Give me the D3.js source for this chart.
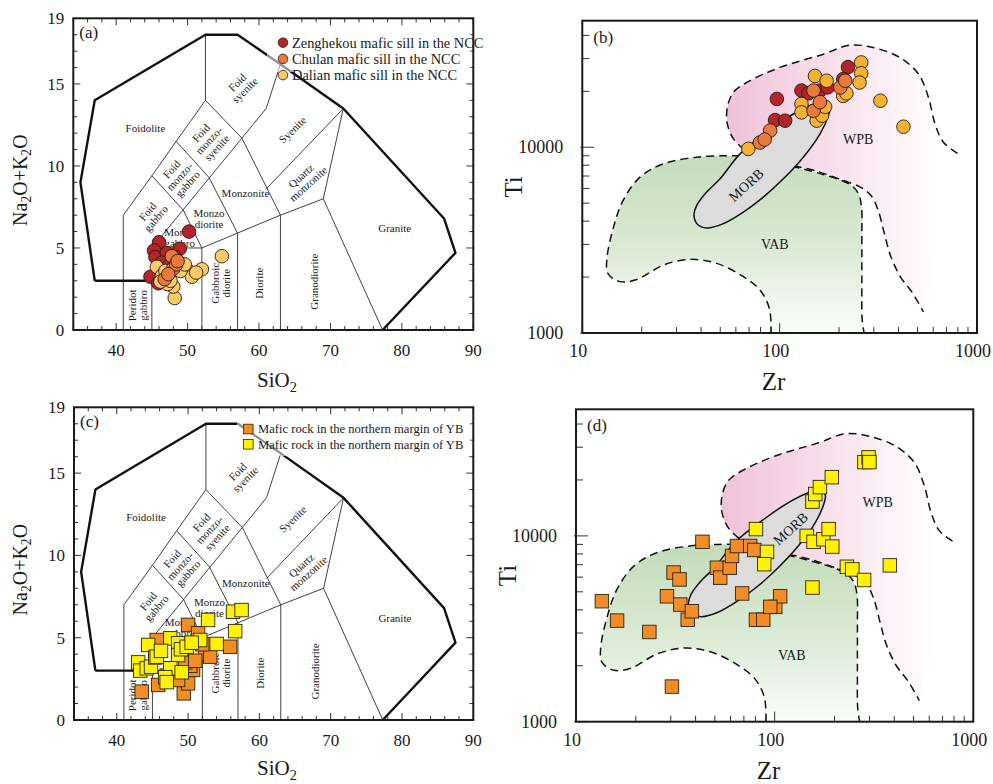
<!DOCTYPE html>
<html>
<head>
<meta charset="utf-8">
<script src="https://cdn.jsdelivr.net/npm/d3@7"></script>
<style>
  body { margin: 0; background: #fff; }
  svg { display: block; }
  text { font-family: "Liberation Serif", "Times New Roman", serif; fill: #1a1a1a; }
</style>
</head>
<body>
<svg id="chart" width="993" height="784" font-family="Liberation Serif, Times New Roman, serif"></svg>
<script>
// ---------------- tick labels ----------------
const tasTickValuesX = [40, 50, 60, 70, 80, 90];
const tasTickValuesY = [0, 5, 10, 15, 19];
const zrTickLabels = [10, 100, 1000];
const tiTickLabels = [1000, 10000];

// ---------------- TAS data (SiO2, Na2O+K2O) ----------------
const zenghekouTAS = [[46.0,5.35],[45.3,4.85],[45.5,4.45],[47.1,4.7],[48.9,4.95],[50.2,6.0],[44.8,3.25],[45.9,2.85],[48.2,4.45],[46.4,4.1],[47.4,3.9]];
const dalianTAS = [[54.8,4.5],[45.7,3.85],[52.0,3.7],[49.9,3.7],[50.6,3.25],[48.2,1.95],[48.0,2.65],[47.2,2.8],[46.4,3.3],[49.0,3.6],[51.2,3.5],[47.6,3.0],[46.9,3.6],[49.6,4.0],[46.2,2.95]];
const chulanTAS = [[47.8,4.5],[48.0,3.75],[48.4,4.0],[46.8,3.1],[47.3,3.4],[48.6,4.2]];

const ybOrangeTAS = [[43.5,1.72],[45.6,4.86],[45.8,2.13],[50.0,5.78],[51.4,5.27],[49.4,1.62],[50.0,2.23],[50.7,3.04],[52.4,4.0],[53.1,3.85],[55.9,4.45],[50.3,3.3],[48.6,2.43],[49.6,3.5],[51.0,3.6],[47.0,2.7],[52.0,4.6]];
const ybYellowTAS = [[43.0,3.5],[43.3,3.0],[44.4,4.56],[44.2,3.14],[44.8,3.24],[45.4,3.8],[45.6,3.85],[47.5,4.96],[48.6,4.66],[48.6,3.95],[47.5,3.14],[49.1,2.9],[49.0,4.3],[46.8,2.6],[47.0,2.3],[49.8,4.45],[51.7,4.86],[52.8,6.08],[54.0,4.62],[56.3,6.58],[57.5,6.68],[56.6,5.4],[46.2,4.2],[50.5,4.7]];

// ---------------- Zr-Ti data (ppm) ----------------
const zenghekouZrTi = [[96.8,18200],[94.8,14000],[106.6,13900],[129,20200],[160,20200],[222,27000],[210,23300],[175,21000],[140,19500]];
const dalianZrTi = [[69.4,9800],[129,17100],[129,15400],[151,24200],[173,22800],[154,13900],[164,14800],[259,28600],[259,25000],[254,22300],[210,18900],[218,19500],[324,17800],[424,12900],[170,16500]];
const chulanZrTi = [[89.5,12300],[79.4,10600],[84,11000],[148.5,20200],[148.5,15700],[203,21000],[215,22800],[160,17500]];

const ybOrangeZrTi = [[13.5,4450],[16.1,3500],[23.4,3040],[30.4,1545],[28.7,4730],[31,6350],[33.2,5830],[33.5,4270],[36.5,3540],[38.3,3930],[43.3,9290],[51.2,6740],[53.2,5960],[59.4,6740],[61,7800],[64.6,8820],[68.6,4900],[75.3,8830],[79,8400],[80.5,3540],[87.6,3540],[100.7,4150],[106.6,4730],[95,4150]];
const ybYellowZrTi = [[80.5,10880],[91.5,8200],[88.6,7040],[145,10000],[157,9290],[176,9590],[187,10880],[195,8760],[155,5270],[155,15300],[160,16800],[169,18300],[194,20700],[231,6820],[246,6600],[282,5790],[380,6940],[283,24950],[297,26450],[300,24950]];

// ---------------- TAS (plutonic) field boundaries ----------------
const tasOuter = [[37,3],[35,9],[37,14],[52.5,18],[57,18],[63,16.2],[71.8,13.5],[85.9,6.8],[87.5,4.7],[77.3,0]];
const tasBase = [[37,3],[45,3]];
const tasDividers = [
  [[41,0],[41,7],[45,9.4],[48.4,11.5],[52.5,14],[52.5,18]],
  [[45,0],[45,5],[61,13.5],[63,16.2]],
  [[45,9.4],[49.4,7.3],[52,5]],
  [[48.4,11.5],[53,9.3],[57,5.9]],
  [[52.5,14],[57.6,11.7],[63,7]],
  [[45,5],[52,5]],
  [[52,0],[52,5],[63,7],[69,8],[71.8,13.5]],
  [[57,0],[57,5.9]],
  [[63,0],[63,7]],
  [[69,8],[77.3,0]],
  [[61,8.6],[71.8,13.5]]
];
const tasFieldLabels = [
  { lines: ["Foidolite"], x: 44.1, y: 12.3, angle: 0 },
  { lines: ["Foid", "syenite"], x: 57.5, y: 14.85, angle: -45 },
  { lines: ["Syenite"], x: 64.7, y: 12.2, angle: -44 },
  { lines: ["Foid", "monzo-", "syenite"], x: 53.0, y: 11.55, angle: -47 },
  { lines: ["Foid", "monzo-", "gabbro"], x: 48.9, y: 9.35, angle: -48 },
  { lines: ["Foid", "gabbro"], x: 45.0, y: 7.0, angle: -50 },
  { lines: ["Quartz", "monzonite"], x: 66.4, y: 9.15, angle: -42 },
  { lines: ["Monzonite"], x: 58.1, y: 8.33, angle: 0 },
  { lines: ["Monzo", "diorite"], x: 53.0, y: 6.8, angle: 0 },
  { lines: ["Monzo", "gabbro"], x: 48.9, y: 5.6, angle: 0 },
  { lines: ["Granite"], x: 79.0, y: 6.2, angle: 0 },
  { lines: ["Peridot", "gabbro"], x: 43.0, y: 1.5, angle: -90 },
  { lines: ["Gabbroic", "diorite"], x: 54.6, y: 2.85, angle: -90 },
  { lines: ["Diorite"], x: 60.1, y: 2.85, angle: -90 },
  { lines: ["Granodiorite"], x: 67.8, y: 2.95, angle: -90 }
];

// ---------------- Zr-Ti field boundaries (Zr, Ti) ----------------
const wpbUpper = [[66,9700],[58.3,11100],[54.3,13350],[54.3,16400],[58.3,19740],[68.1,22340],[100.5,26900],[166.5,31700],[227,35450],[298,34400],[407,30400],[505,24800],[567,18600],[613,13350],[676,10640],[805,9210]];
const wpbLower = [[118,7950],[154,7430],[210,6630],[256,6100],[290,5500],[315,4600],[340,3400],[365,2600],[410,2000],[470,1650],[535,1300]];
const vabUpper = [[63,9000],[51.8,9000],[38,8840],[25.7,8140],[19.6,6900],[16.1,5175],[14.4,3720],[13.3,2465],[13.5,2090],[15.5,1890],[18.9,1940],[25.7,2320],[35.2,2490],[48,2370],[65.5,2010],[79.6,1700],[88.7,1356],[90.5,1000]];
const vabRight = [[115,7910],[166,7140],[227,6310],[250,5665],[260,4760],[261,3430],[261,1850],[262,1174],[268,1000]];
const morbOutline = [[36.8,4300],[38,4865],[42.7,5740],[49.9,6760],[63,9210],[86,12040],[117.3,15100],[151,17220],[170,17660],[180,16540],[176.6,14800],[160.2,11800],[131.8,8840],[104.4,6760],[82.7,5390],[65.5,4480],[51.8,3880],[42.7,3675],[38.3,3850]];

const zrTiLabelsB = [
  { text: "MORB", zr: 67.6, ti: 6270, angle: -42 },
  { text: "WPB", zr: 250, ti: 11100, angle: 0 },
  { text: "VAB", zr: 94.5, ti: 3030, angle: 0 }
];
const zrTiLabelsD = [
  { text: "MORB", zr: 120, ti: 10960, angle: -42 },
  { text: "WPB", zr: 330, ti: 15160, angle: 0 },
  { text: "VAB", zr: 122, ti: 2290, angle: 0 }
];

// ---------------- styling ----------------
const COLORS = {
  zenghekou: "#b3242b",
  chulan: "#e67b3b",
  dalianA: "#f9cb68",
  dalianB: "#f5b232",
  ybOrange: "#f28c26",
  ybYellow: "#fff200"
};

const svg = d3.select("#chart");
const defs = svg.append("defs");

function frame(g, box) {
  g.append("rect")
    .attr("x", box.x0).attr("y", box.y0)
    .attr("width", box.x1 - box.x0).attr("height", box.y1 - box.y0)
    .attr("fill", "none").attr("stroke", "#1a1a1a").attr("stroke-width", 2);
}

function tick(g, x1, y1, x2, y2) {
  g.append("line").attr("x1", x1).attr("y1", y1).attr("x2", x2).attr("y2", y2)
    .attr("stroke", "#333").attr("stroke-width", 1);
}

function subscriptText(sel, parts, size) {
  // parts: [text, isSub]
  parts.forEach(([s, sub], i) => {
    const prevSub = i > 0 && parts[i - 1][1];
    const t = sel.append("tspan").text(s);
    if (sub) t.attr("font-size", size * 0.68).attr("dy", size * 0.22);
    else if (prevSub) t.attr("dy", -size * 0.22);
  });
}

// ---------------- TAS panel ----------------
function drawTAS(box, tag, titleOffset, drawSeries) {
  const g = svg.append("g");
  const x = d3.scaleLinear().domain([34, 90]).range([box.x0, box.x1]);
  const y = d3.scaleLinear().domain([0, 19]).range([box.y1, box.y0]);
  const line = d3.line().x(d => x(d[0])).y(d => y(d[1]));

  tasDividers.forEach(seg => g.append("path").attr("d", line(seg))
    .attr("fill", "none").attr("stroke", "#2b2b2b").attr("stroke-width", 0.9));
  g.append("path").attr("d", line(tasOuter)).attr("fill", "none")
    .attr("stroke", "#111").attr("stroke-width", 2.4).attr("stroke-linejoin", "round");
  g.append("path").attr("d", line(tasBase)).attr("fill", "none")
    .attr("stroke", "#111").attr("stroke-width", 2.4);

  const LH = 10.8;
  tasFieldLabels.forEach(l => {
    const t = g.append("text")
      .attr("transform", `translate(${x(l.x)},${y(l.y)}) rotate(${l.angle})`)
      .attr("text-anchor", "middle").attr("font-size", 11);
    const n = l.lines.length;
    l.lines.forEach((s, i) => t.append("tspan").attr("x", 0)
      .attr("y", (i - (n - 1) / 2) * LH + 3.7).text(s));
  });

  // inward ticks on all four sides
  d3.range(34, 91, 2).forEach(v => {
    const len = v % 10 === 0 ? 7 : 4;
    tick(g, x(v), box.y1, x(v), box.y1 - len);
    tick(g, x(v), box.y0, x(v), box.y0 + len);
  });
  d3.range(0, 20, 1).forEach(v => {
    const len = v % 5 === 0 ? 7 : 4;
    tick(g, box.x0, y(v), box.x0 + len, y(v));
    tick(g, box.x1, y(v), box.x1 - len, y(v));
  });
  frame(g, box);

  tasTickValuesX.forEach(v => g.append("text").attr("x", x(v)).attr("y", box.y1 + 26)
    .attr("text-anchor", "middle").attr("font-size", 17).text(v));
  tasTickValuesY.forEach(v => g.append("text").attr("x", box.x0 - 9).attr("y", y(v) + 6)
    .attr("text-anchor", "end").attr("font-size", 17).text(v));

  const xt = g.append("text").attr("x", 277).attr("y", box.y1 + titleOffset)
    .attr("text-anchor", "middle").attr("font-size", 21);
  subscriptText(xt, [["SiO", false], ["2", true]], 21);
  const yt = g.append("text")
    .attr("transform", `translate(27,${(box.y0 + box.y1) / 2 + 6}) rotate(-90)`)
    .attr("text-anchor", "middle").attr("font-size", 20);
  subscriptText(yt, [["Na", false], ["2", true], ["O+K", false], ["2", true], ["O", false]], 20);

  g.append("text").attr("x", box.x0 + 6).attr("y", box.y0 + 20)
    .attr("font-size", 17).text(tag);

  drawSeries(g, x, y);
  return g;
}

// ---------------- Zr-Ti panel ----------------
function drawZrTi(box, tag, labels, titleOffset, drawSeries) {
  const g = svg.append("g");
  const x = d3.scaleLog().domain([10, 1000]).range([box.x0, box.x1]);
  const y = d3.scaleLog().domain([1000, 48000]).range([box.y1, box.y0]);
  const id = tag.replace(/[()]/g, "");

  defs.append("clipPath").attr("id", "clip" + id).append("rect")
    .attr("x", box.x0).attr("y", box.y0).attr("width", box.x1 - box.x0).attr("height", box.y1 - box.y0);

  const wpbGrad = defs.append("linearGradient").attr("id", "wpb" + id)
    .attr("gradientUnits", "userSpaceOnUse")
    .attr("x1", x(55)).attr("x2", x(650)).attr("y1", 0).attr("y2", 0);
  wpbGrad.append("stop").attr("offset", 0).attr("stop-color", "#efc2da");
  wpbGrad.append("stop").attr("offset", 0.45).attr("stop-color", "#f7dde9");
  wpbGrad.append("stop").attr("offset", 1).attr("stop-color", "#ffffff");

  const vabGrad = defs.append("linearGradient").attr("id", "vab" + id)
    .attr("gradientUnits", "userSpaceOnUse")
    .attr("x1", 0).attr("x2", 0).attr("y1", y(9000)).attr("y2", y(1000));
  vabGrad.append("stop").attr("offset", 0).attr("stop-color", "#c3dcbb");
  vabGrad.append("stop").attr("offset", 0.55).attr("stop-color", "#dcebd6");
  vabGrad.append("stop").attr("offset", 1).attr("stop-color", "#fbfdfb");

  const curve = d3.line().x(d => x(d[0])).y(d => y(d[1])).curve(d3.curveCatmullRom.alpha(0.5));
  const closed = d3.line().x(d => x(d[0])).y(d => y(d[1])).curve(d3.curveCatmullRomClosed.alpha(0.5));
  const join = (...segs) => segs.map((s, i) => (i ? s.replace(/^M/, "L") : s)).join("") + "Z";

  const fills = g.append("g").attr("clip-path", `url(#clip${id})`);
  fills.append("path").attr("d", join(curve(wpbUpper), curve(wpbLower.slice().reverse())))
    .attr("fill", `url(#wpb${id})`);
  fills.append("path").attr("d", join(curve(vabUpper), curve(vabRight.slice().reverse())))
    .attr("fill", `url(#vab${id})`);

  [wpbUpper, wpbLower, vabUpper, vabRight].forEach(b => fills.append("path").attr("d", curve(b))
    .attr("fill", "none").attr("stroke", "#111").attr("stroke-width", 1.5)
    .attr("stroke-dasharray", "8,5"));

  g.append("path").attr("d", closed(morbOutline))
    .attr("fill", "#dcdcdc").attr("stroke", "#111").attr("stroke-width", 1.5);

  labels.forEach(l => g.append("text")
    .attr("transform", `translate(${x(l.zr)},${y(l.ti)}) rotate(${l.angle})`)
    .attr("text-anchor", "middle").attr("dy", 5).attr("font-size", 14).text(l.text));

  // inward ticks on left and bottom
  const yTicks = d3.range(1000, 10000, 1000).concat(d3.range(10000, 48000, 10000));
  yTicks.forEach(v => {
    const major = v === 1000 || v === 10000;
    tick(g, box.x0 - (major ? 2 : 0), y(v), box.x0 + (major ? 12 : 7), y(v));
  });
  const xTicks = d3.range(10, 100, 10).concat(d3.range(100, 1000, 100), [1000]);
  xTicks.forEach(v => {
    const major = v === 10 || v === 100 || v === 1000;
    tick(g, x(v), box.y1, x(v), box.y1 - (major ? 10 : 6));
  });
  frame(g, box);

  zrTickLabels.forEach(v => g.append("text").attr("x", x(v) - 4).attr("y", box.y1 + 24)
    .attr("text-anchor", "middle").attr("font-size", 18).text(v));
  tiTickLabels.forEach(v => g.append("text").attr("x", box.x0 - 19).attr("y", y(v) + 6)
    .attr("text-anchor", "end").attr("font-size", 18).text(v));

  g.append("text").attr("x", (box.x0 + box.x1) / 2 - 6).attr("y", box.y1 + titleOffset)
    .attr("text-anchor", "middle").attr("font-size", 25).text("Zr");
  g.append("text")
    .attr("transform", `translate(${box.x0 - 60},${(box.y0 + box.y1) / 2 + 10}) rotate(-90)`)
    .attr("text-anchor", "middle").attr("font-size", 25).text("Ti");

  g.append("text").attr("x", box.x0 + 11).attr("y", box.y0 + 22)
    .attr("font-size", 17).text(tag);

  drawSeries(g, x, y);
  return g;
}

function circles(g, x, y, data, color) {
  g.append("g").selectAll("circle").data(data).join("circle")
    .attr("cx", d => x(d[0])).attr("cy", d => y(d[1])).attr("r", 6.8)
    .attr("fill", color).attr("stroke", "#2a1a12").attr("stroke-width", 0.9);
}
function squares(g, x, y, data, color) {
  const s = 13.5;
  g.append("g").selectAll("rect").data(data).join("rect")
    .attr("x", d => x(d[0]) - s / 2).attr("y", d => y(d[1]) - s / 2)
    .attr("width", s).attr("height", s)
    .attr("fill", color).attr("stroke", "#2a2410").attr("stroke-width", 0.9);
}

// ---------------- panels ----------------
const boxA = { x0: 73.3, x1: 473.3, y0: 18.3, y1: 330 };
const boxB = { x0: 582.3, x1: 977, y0: 20.7, y1: 333 };
const boxC = { x0: 74, x1: 473.3, y0: 407.3, y1: 720 };
const boxD = { x0: 576, x1: 973.3, y0: 409.3, y1: 721.7 };

drawTAS(boxA, "(a)", 57, (g, x, y) => {
  circles(g, x, y, zenghekouTAS, COLORS.zenghekou);
  circles(g, x, y, dalianTAS, COLORS.dalianA);
  circles(g, x, y, chulanTAS, COLORS.chulan);
  // legend
  const lg = g.append("g");
  lg.append("rect").attr("x", 267).attr("y", 32).attr("width", 204).attr("height", 40)
    .attr("fill", "#fff").attr("opacity", 0.55);
  const items = [
    ["Zenghekou mafic sill in the NCC", COLORS.zenghekou],
    ["Chulan mafic sill in the NCC", COLORS.chulan],
    ["Dalian mafic sill in the NCC", COLORS.dalianA]
  ];
  items.forEach(([label, c], i) => {
    const cy = 42.7 + i * 16.2;
    lg.append("circle").attr("cx", 283).attr("cy", cy).attr("r", 4.8)
      .attr("fill", c).attr("stroke", "#2a1a12").attr("stroke-width", 0.8);
    lg.append("text").attr("x", 292).attr("y", cy + 4.8).attr("font-size", 14.4).text(label);
  });
});

drawZrTi(boxB, "(b)", zrTiLabelsB, 57, (g, x, y) => {
  circles(g, x, y, zenghekouZrTi, COLORS.zenghekou);
  circles(g, x, y, dalianZrTi, COLORS.dalianB);
  circles(g, x, y, chulanZrTi, COLORS.chulan);
});

drawTAS(boxC, "(c)", 55, (g, x, y) => {
  squares(g, x, y, ybOrangeTAS, COLORS.ybOrange);
  squares(g, x, y, ybYellowTAS, COLORS.ybYellow);
  const lg = g.append("g");
  lg.append("rect").attr("x", 237).attr("y", 418).attr("width", 234).attr("height", 38)
    .attr("fill", "#fff").attr("opacity", 0.55);
  const items = [
    ["Mafic rock in the northern margin of YB", COLORS.ybOrange],
    ["Mafic rock in the northern margin of YB", COLORS.ybYellow]
  ];
  items.forEach(([label, c], i) => {
    const cy = 429 + i * 15.3;
    lg.append("rect").attr("x", 243.5).attr("y", cy - 4.8).attr("width", 9.6).attr("height", 9.6)
      .attr("fill", c).attr("stroke", "#2a2410").attr("stroke-width", 0.8);
    lg.append("text").attr("x", 258).attr("y", cy + 4.4).attr("font-size", 12.6).text(label);
  });
});

drawZrTi(boxD, "(d)", zrTiLabelsD, 57, (g, x, y) => {
  squares(g, x, y, ybOrangeZrTi, COLORS.ybOrange);
  squares(g, x, y, ybYellowZrTi, COLORS.ybYellow);
});
</script>
</body>
</html>
